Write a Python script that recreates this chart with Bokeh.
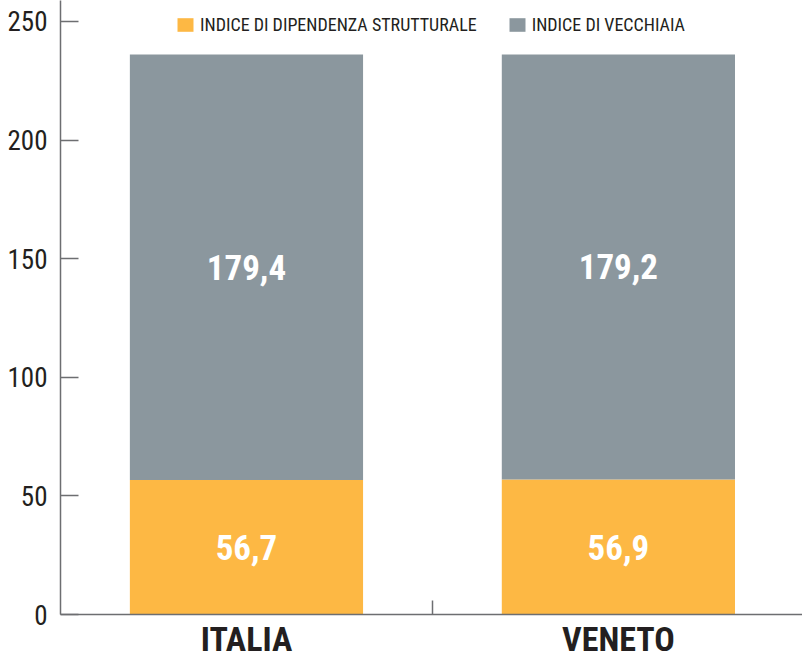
from bokeh.plotting import figure
from bokeh.models import ColumnDataSource, Range1d, FixedTicker
from bokeh.core.properties import value
from bokeh.embed import file_html
from bokeh.resources import INLINE

categories = ["ITALIA", "VENETO"]
dipendenza = [56.7, 56.9]
vecchiaia = [179.4, 179.2]
series_names = ["INDICE DI DIPENDENZA STRUTTURALE", "INDICE DI VECCHIAIA"]
y_ticks = [0, 50, 100, 150, 200, 250]

FONT = "Roboto Condensed"
YELLOW = "#FDB844"
GRAY = "#8B979E"
TEXT = "#231F20"
AXIS = "#6D6E71"

xs = [i + 0.5 for i in range(len(categories))]
fmt = lambda v: f"{v:.1f}".replace(".", ",")
source = ColumnDataSource(dict(
    x=xs, dip=dipendenza, vec=vecchiaia,
    dip_mid=[d / 2 for d in dipendenza],
    vec_mid=[d + v / 2 for d, v in zip(dipendenza, vecchiaia)],
    dip_lab=[fmt(d) for d in dipendenza],
    vec_lab=[fmt(v) for v in vecchiaia],
))

p = figure(width=802, height=661, output_backend="svg", toolbar_location=None,
           x_range=Range1d(0, 1.995), y_range=Range1d(0, 258.85),
           min_border_left=60, min_border_right=0, min_border_top=0, min_border_bottom=47)
p.outline_line_color = None
p.xgrid.visible = False
p.ygrid.visible = False

rs = p.vbar_stack(["dip", "vec"], x="x", width=0.627, color=[YELLOW, GRAY],
                  line_color=None, source=source, legend_label=series_names)

for ycol, tcol in (("dip_mid", "dip_lab"), ("vec_mid", "vec_lab")):
    p.text(x="x", y=ycol, text=tcol, source=source, text_align="center",
           text_baseline="middle", text_color="white", text_font=value(FONT),
           text_font_style="bold", text_font_size="35px")

# y axis
ya = p.yaxis[0]
ya.ticker = FixedTicker(ticks=y_ticks)
ya.minor_tick_line_color = None
ya.major_tick_in = 18
ya.major_tick_out = 0
ya.major_tick_line_color = AXIS
ya.major_tick_line_width = 1.5
ya.axis_line_color = AXIS
ya.axis_line_width = 1.5
ya.major_label_text_font = FONT
ya.major_label_text_font_size = "27px"
ya.major_label_text_color = TEXT
ya.major_label_standoff = 13

# x axis
xa = p.xaxis[0]
xa.ticker = FixedTicker(ticks=xs, minor_ticks=[1.0])
xa.major_label_overrides = {x: c for x, c in zip(xs, categories)}
xa.major_tick_in = 0
xa.major_tick_out = 0
xa.minor_tick_in = 14
xa.minor_tick_out = 0
xa.minor_tick_line_color = AXIS
xa.minor_tick_line_width = 1.5
xa.axis_line_color = AXIS
xa.axis_line_width = 1.5
xa.major_label_text_font = FONT
xa.major_label_text_font_style = "bold"
xa.major_label_text_font_size = "34px"
xa.major_label_text_color = TEXT
xa.major_label_standoff = 4

lg = p.legend[0]
lg.orientation = "horizontal"
lg.location = (115, 579)
lg.glyph_width = 20
lg.glyph_height = 17
lg.label_text_font = FONT
lg.label_text_font_size = "18px"
lg.label_text_color = TEXT
lg.label_standoff = 5
lg.spacing = 30
lg.padding = 0
lg.margin = 0
lg.background_fill_alpha = 0
lg.border_line_color = None

open("out.html", "w").write(file_html(p, INLINE))
